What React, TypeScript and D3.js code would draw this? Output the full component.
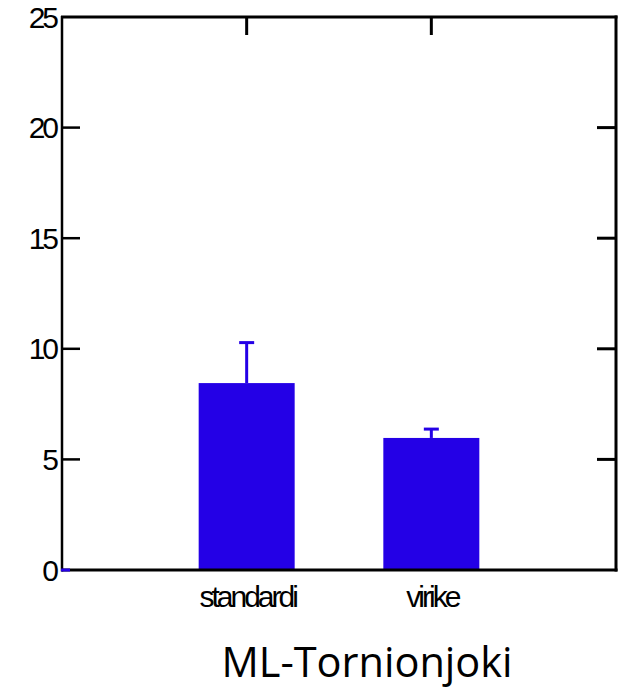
import React from "react";
import * as d3 from "d3";

const categories = ["standardi", "virike"];
const means = [8.45, 5.97];
const errTops = [10.28, 6.37];
const yTicks = [0, 5, 10, 15, 20, 25];
const title = "ML-Tornionjoki";

const W = 626;
const H = 690;
const L = 62, R = 616, T = 17, B = 570;
const BLUE = "#2400E6";

export default function App() {
  const y = d3.scaleLinear().domain([0, 25]).range([B, T]);
  const x = d3.scalePoint<string>().domain(categories).range([L, R]).padding(1);
  const barW = 96;
  const capW = 15;
  const tickFont: React.CSSProperties = {
    fontFamily: "'Liberation Sans', Arial, sans-serif",
    fontSize: 30,
    letterSpacing: -3,
  };
  return (
    <svg width={W} height={H} style={{ position: "absolute", left: 0, top: 0 }}>
      <rect x={0} y={0} width={W} height={H} fill="#fff" />
      {yTicks.slice(1, -1).map((t) => (
        <g key={"yt" + t}>
          <line x1={L} x2={L + 18} y1={y(t)} y2={y(t)} stroke="#000" strokeWidth={2.5} />
          <line x1={R - 19} x2={R} y1={y(t)} y2={y(t)} stroke="#000" strokeWidth={3} />
        </g>
      ))}
      {categories.map((c) => (
        <g key={"xt" + c}>
          <line x1={x(c)!} x2={x(c)!} y1={T} y2={T + 18} stroke="#000" strokeWidth={3} />
          <line x1={x(c)!} x2={x(c)!} y1={B} y2={B - 18} stroke="#000" strokeWidth={3} />
        </g>
      ))}
      {categories.map((c, i) => (
        <g key={"eb" + c} stroke={BLUE} strokeWidth={3}>
          <line x1={x(c)!} x2={x(c)!} y1={y(means[i])} y2={y(errTops[i])} />
          <line x1={x(c)! - capW / 2} x2={x(c)! + capW / 2} y1={y(errTops[i])} y2={y(errTops[i])} />
        </g>
      ))}
      {categories.map((c, i) => (
        <rect
          key={"b" + c}
          x={x(c)! - barW / 2}
          y={y(means[i])}
          width={barW}
          height={y(0) - y(means[i])}
          fill={BLUE}
        />
      ))}
      <line x1={L} x2={L} y1={T - 1} y2={B + 1.5} stroke="#000" strokeWidth={2.5} />
      <line x1={L - 1} x2={R + 1.5} y1={T} y2={T} stroke="#000" strokeWidth={3} />
      <line x1={R} x2={R} y1={T - 1.5} y2={B + 1.5} stroke="#000" strokeWidth={3} />
      <line x1={L} x2={R + 1.5} y1={B} y2={B} stroke="#000" strokeWidth={3} />
      <line x1={L - 1} x2={L + 8} y1={B} y2={B} stroke={BLUE} strokeWidth={3} />
      {yTicks.map((t) => (
        <text key={"yl" + t} x={L - 6} y={y(t) + 10.5} textAnchor="end" style={tickFont}>
          {t}
        </text>
      ))}
      {categories.map((c) => (
        <text key={"xl" + c} x={x(c)! + 1} y={607} textAnchor="middle" style={tickFont}>
          {c}
        </text>
      ))}
      <text
        x={367}
        y={677}
        textAnchor="middle"
        style={{ fontFamily: "'Open Sans', sans-serif", fontSize: 41.5 }}
      >
        {title}
      </text>
    </svg>
  );
}
